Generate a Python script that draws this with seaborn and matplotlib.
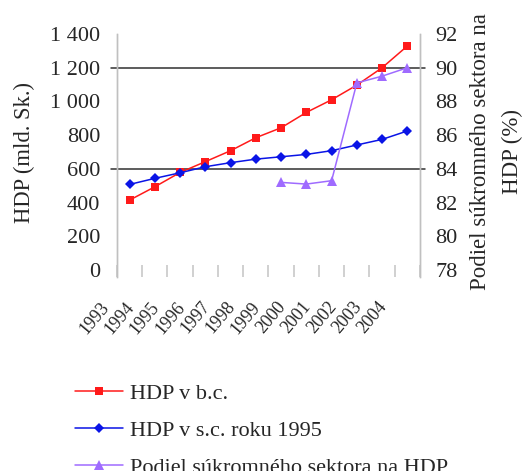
import numpy as np
import pandas as pd
import matplotlib
matplotlib.use("Agg")
import matplotlib.pyplot as plt
import seaborn as sns
from matplotlib.transforms import ScaledTranslation

# ---- data ----
years = [1993, 1994, 1995, 1996, 1997, 1998, 1999, 2000, 2001, 2002, 2003, 2004]
hdp_bc = [415, 494, 579, 643, 708, 785, 844, 935, 1010, 1097, 1200, 1329]
hdp_sc = [508, 544, 577, 613, 637, 658, 672, 686, 708, 742, 775, 825]
podiel_years = [1999, 2000, 2001, 2002, 2003, 2004]
podiel = [83.2, 83.1, 83.3, 89.1, 89.5, 90.0]

left_ticks = [0, 200, 400, 600, 800, 1000, 1200, 1400]
left_tick_labels = ["0", "200", "400", "600", "800", "1 000", "1 200", "1 400"]
right_ticks = [78, 80, 82, 84, 86, 88, 90, 92]
grid_levels = [600, 1200]

name_bc = "HDP v b.c."
name_sc = "HDP v s.c. roku 1995"
name_pod = "Podiel súkromného sektora na HDP"
ylabel_left = "HDP (mld. Sk.)"
ylabel_right = "Podiel súkromného sektora na\nHDP (%)"

df_main = pd.DataFrame({"rok": years, "bc": hdp_bc, "sc": hdp_sc})
df_pod = pd.DataFrame({"rok": podiel_years, "podiel": podiel})

# ---- style ----
sns.set_style("white")
plt.rcParams["font.family"] = ["Liberation Serif", "DejaVu Serif"]
FS = 16

fig = plt.figure(figsize=(5.23, 4.71), dpi=100)
ax = fig.add_axes([0.2237, 0.4119, 0.5793, 0.5159])
ax2 = ax.twinx()

red = "#FF1A1A"
blue = "#0A14E6"
purple = "#9F6BFF"

sns.lineplot(data=df_main, x="rok", y="bc", ax=ax, color=red, marker="s",
             markersize=5.5, markeredgewidth=0, linewidth=1.1, label=name_bc)
sns.lineplot(data=df_main, x="rok", y="sc", ax=ax, color=blue, marker="D",
             markersize=5.5, markeredgewidth=0, linewidth=1.1, label=name_sc)
sns.lineplot(data=df_pod, x="rok", y="podiel", ax=ax2, color=purple, marker="^",
             markersize=6.5, markeredgewidth=0, linewidth=1.1, label=name_pod)

for lv in grid_levels:
    ax.axhline(lv, xmin=-0.02, xmax=1.017, color="#303030", lw=1.1, clip_on=False, zorder=1)

# limits
low = -41
ax.set_xlim(years[0] - 0.5, years[-1] + 0.5)
ax.set_ylim(low, 1400)
ax2.set_ylim(78 + low / 100.0, 92)

ax.set_yticks(left_ticks)
ax.set_yticklabels(left_tick_labels)
ax2.set_yticks(right_ticks)
ax2.set_yticklabels([str(t) for t in right_ticks])

ax.set_xticks(years)
ax.set_xticklabels([str(y) for y in years], rotation=50, ha="right", va="top",
                   rotation_mode="anchor", fontsize=13)
ax.set_xticks(np.arange(years[0] - 0.5, years[-1] + 0.6, 1.0), minor=True)
ax.tick_params(axis="x", which="major", length=0, pad=15.5)
ax.tick_params(axis="x", which="minor", direction="in", length=9, width=1.1,
               color="#C4C4C4", bottom=True)
ax.tick_params(axis="y", length=0, pad=12, labelsize=FS)
ax2.tick_params(axis="y", length=0, pad=11, labelsize=FS)

off = ScaledTranslation(-30 / 100.0, 0, fig.dpi_scale_trans)
for lab in ax.get_xticklabels():
    lab.set_transform(lab.get_transform() + off)

for a in (ax, ax2):
    for s in ("top", "bottom"):
        a.spines[s].set_visible(False)
    a.spines["left"].set_color("#C0C0C0")
    a.spines["right"].set_color("#C0C0C0")
    a.spines["left"].set_linewidth(1.0)
    a.spines["right"].set_linewidth(1.0)
    a.set_xlabel("")
    a.grid(False)

ax.set_ylabel(ylabel_left, fontsize=16.3)
ax.yaxis.set_label_coords(-0.272, 0.512)
ax2.set_ylabel(ylabel_right, fontsize=16.5, linespacing=1.72, multialignment="center")
ax2.yaxis.set_label_coords(1.164, 0.516)

h1, l1 = ax.get_legend_handles_labels()
h2, l2 = ax2.get_legend_handles_labels()
for a in (ax, ax2):
    if a.get_legend() is not None:
        a.get_legend().remove()
fig.legend(h1 + h2, l1 + l2, loc="upper left", bbox_to_anchor=(75 / 523, 1 - 383 / 471),
           frameon=False, borderpad=0, borderaxespad=0, handlelength=2.15,
           handletextpad=0.33, labelspacing=0.74, fontsize=FS)

fig.savefig("out.png", dpi=100)
